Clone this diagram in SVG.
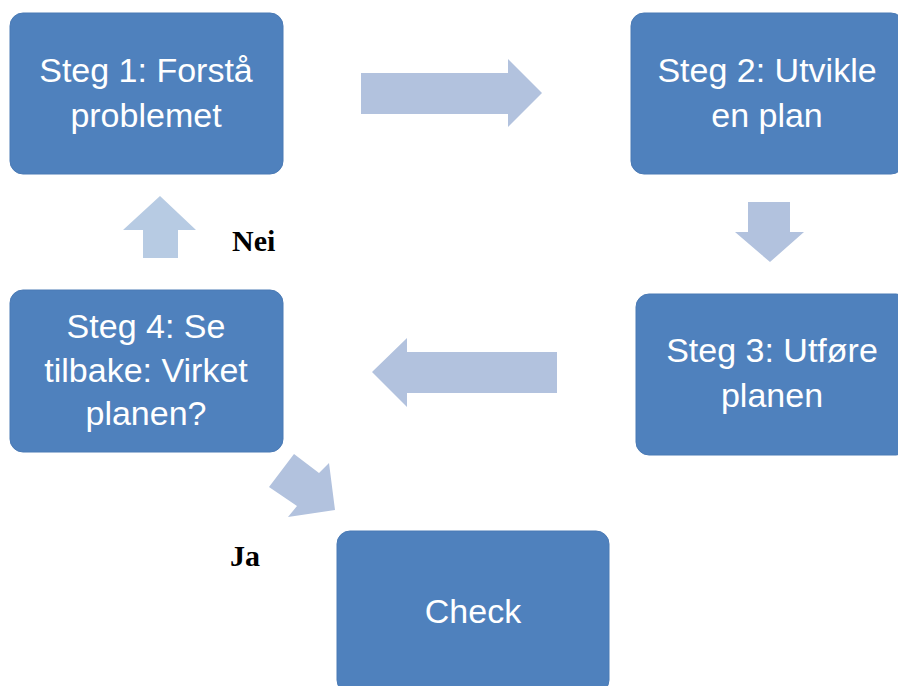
<svg xmlns="http://www.w3.org/2000/svg" width="898" height="686" viewBox="0 0 898 686">
<style>
.box{fill:#4F81BD;stroke:#4A7AB5;stroke-width:1}
.bt{font-family:"Liberation Sans",Arial,sans-serif;font-size:34px;fill:#FFFFFF;text-anchor:middle}
.arr{fill:#B2C2DE}
.up{fill:#B7CBE3}
.lbl{font-family:"Liberation Serif","Times New Roman",serif;font-size:30px;font-weight:bold;fill:#000000}
</style>
<rect width="898" height="686" fill="#FFFFFF"/>
<g id="connectors">
<polygon class="arr" points="361,73 508,73 508,59 542,93 508,127 508,114 361,114"/>
<polygon class="arr" points="748,202 790,202 790,232 804,232 770,262 735,232 748,232"/>
<polygon class="arr" points="557,352 407,352 407,338 372,372 407,407 407,393 557,393"/>
<polygon class="up" points="143,258 178,258 178,230 196,230 160,196 123,230 143,230"/>
<polygon class="arr" points="294,454 319,473 329,463 335,510 288,517 297,506 269,487"/>
</g>
<g id="node1">
<rect class="box" x="10" y="13" width="273" height="161" rx="13"/>
<text class="bt" x="146" y="82">Steg 1: Forstå</text>
<text class="bt" x="146" y="127">problemet</text>
</g>
<g id="node2">
<rect class="box" x="631" y="13" width="273" height="161" rx="13"/>
<text class="bt" x="767" y="82">Steg 2: Utvikle</text>
<text class="bt" x="767" y="127">en plan</text>
</g>
<g id="node3">
<rect class="box" x="636" y="294" width="273" height="161" rx="13"/>
<text class="bt" x="772" y="362">Steg 3: Utføre</text>
<text class="bt" x="772" y="407">planen</text>
</g>
<g id="node4">
<rect class="box" x="10" y="290" width="273" height="162" rx="13"/>
<text class="bt" x="146" y="338">Steg 4: Se</text>
<text class="bt" x="146" y="382">tilbake: Virket</text>
<text class="bt" x="146" y="425">planen?</text>
</g>
<g id="node5">
<rect class="box" x="337" y="531" width="272" height="162" rx="13"/>
<text class="bt" x="473" y="623">Check</text>
</g>
<g id="labels">
<text class="lbl" x="232" y="251">Nei</text>
<text class="lbl" x="230" y="566">Ja</text>
</g>
</svg>
